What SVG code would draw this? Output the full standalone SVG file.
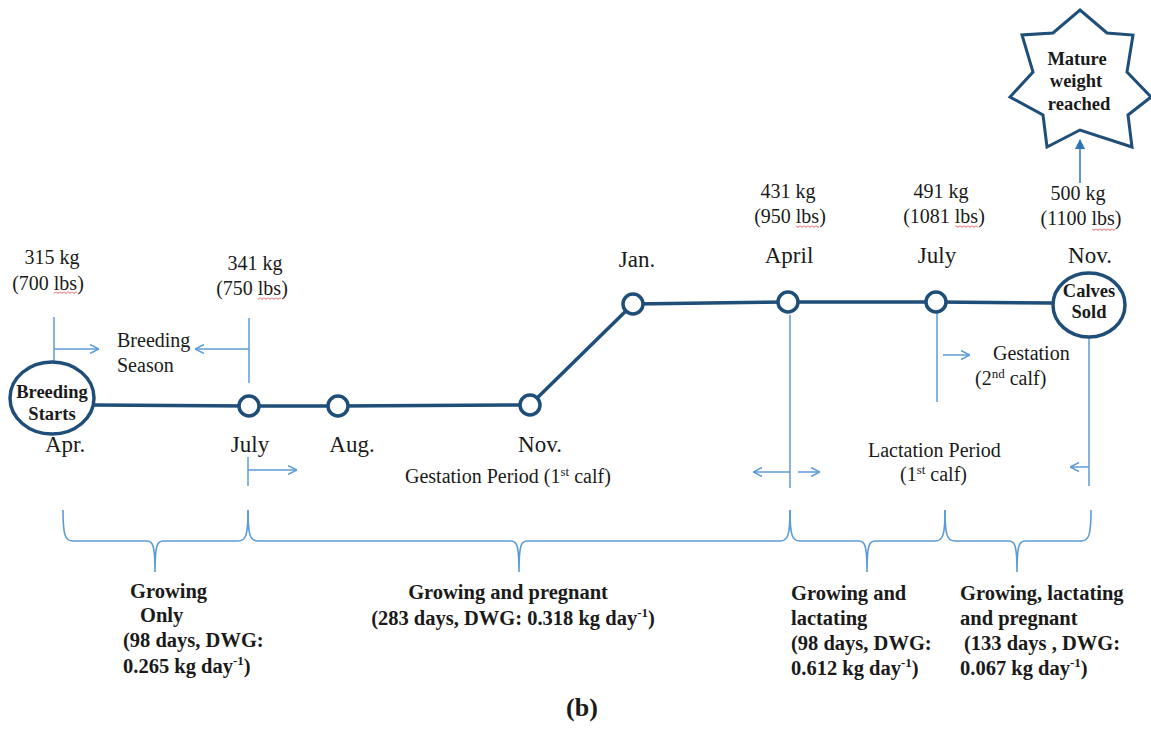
<svg xmlns="http://www.w3.org/2000/svg" width="1151" height="733" viewBox="0 0 1151 733">
<style>
text{font-family:"Liberation Serif","Times New Roman",serif;fill:#1a1a1a}
.lbl{font-size:20px}
.mon{font-size:23px}
.bold{font-weight:bold;font-size:20.5px}
.nb{font-weight:bold;font-size:18.5px}
.mid{text-anchor:middle}
.main{fill:none;stroke:#1F4E79;stroke-width:3.5}
.node{fill:#fff;stroke:#1F4E79;stroke-width:3.5}
.thin{fill:none;stroke:#5B9BD5;stroke-width:1.5}
.arr{fill:none;stroke:#5B9BD5;stroke-width:1.5;marker-end:url(#chev)}
.brace{fill:none;stroke:#5B9BD5;stroke-width:1.6}
.sq{fill:url(#squig)}
</style>
<defs>
<marker id="chev" viewBox="0 0 10 10" refX="10" refY="5" markerWidth="10" markerHeight="10" markerUnits="userSpaceOnUse" orient="auto">
<path d="M1,0.5 L10,5 L1,9.5" fill="none" stroke="#5B9BD5" stroke-width="1.4"/>
</marker>
<marker id="tri" viewBox="0 0 10 10" refX="9" refY="5" markerWidth="10" markerHeight="12" markerUnits="userSpaceOnUse" orient="auto">
<path d="M0,0 L10,5 L0,10 Z" fill="#2E75B6"/>
</marker>
<pattern id="squig" width="4" height="3" patternUnits="userSpaceOnUse">
<path d="M0,0.5 L2,2.5 L4,0.5" fill="none" stroke="#e02020" stroke-width="0.8"/>
</pattern>
</defs>
<rect width="1151" height="733" fill="#fff"/>

<g id="connectors">
<polyline class="main" points="94,405 249,406 338,406 530,405 633,304 788,302 936,302 1053,303"/>
<path class="thin" d="M54,317 V362"/>
<path class="arr" d="M54,349 H99"/>
<path class="thin" d="M249,318 V383"/>
<path class="arr" d="M249,349 H195"/>
<path class="thin" d="M248,457 V486"/>
<path class="arr" d="M248,470 H297"/>
<path class="thin" d="M790,315 V488"/>
<path class="arr" d="M790,472 H753"/>
<path class="arr" d="M798,472 H820"/>
<path class="thin" d="M937,313 V402"/>
<path class="arr" d="M943,355 H970"/>
<path class="thin" d="M1089,337 V486"/>
<path class="arr" d="M1089,467 H1070"/>
<path d="M1080,183 V140" fill="none" stroke="#2E75B6" stroke-width="1.5" marker-end="url(#tri)"/>
</g>

<g id="brackets">
<path class="brace" d="M63,510 C63,535 65,541 73,541 H147 C153,541 155,546 155,572 C155,546 157,541 163,541 H238 C246,541 248,535 248,510"/>
<path class="brace" d="M248,510 C248,535 250,541 258,541 H511 C517,541 519,546 519,572 C519,546 521,541 527,541 H780 C788,541 790,535 790,510"/>
<path class="brace" d="M790,510 C790,535 792,541 800,541 H859 C865,541 867,546 867,572 C867,546 869,541 875,541 H935 C943,541 945,535 945,510"/>
<path class="brace" d="M945,510 C945,535 947,541 955,541 H1009 C1015,541 1017,546 1017,572 C1017,546 1019,541 1025,541 H1081 C1089,541 1091,535 1091,510"/>
</g>

<g id="node-breeding-starts">
<ellipse class="node" cx="52" cy="398" rx="42" ry="36"/>
<text class="nb mid" x="52" y="398">Breeding</text>
<text class="nb mid" x="52" y="420">Starts</text>
<text class="mon mid" x="65" y="452">Apr.</text>
<text class="lbl mid" x="52" y="264">315 kg</text>
<text class="lbl mid" x="48" y="290">(700 lbs)</text>
<rect class="sq" x="54" y="291" width="23" height="3"/>
</g>

<g id="node-july1">
<circle class="node" cx="249" cy="406" r="10"/>
<text class="mon mid" x="250" y="452">July</text>
<text class="lbl mid" x="255" y="270">341 kg</text>
<text class="lbl mid" x="252" y="295">(750 lbs)</text>
<rect class="sq" x="258" y="297" width="23" height="3"/>
</g>

<g id="breeding-season">
<text class="lbl" x="117" y="347">Breeding</text>
<text class="lbl" x="117" y="372">Season</text>
</g>

<g id="node-aug">
<circle class="node" cx="338" cy="406" r="10"/>
<text class="mon mid" x="352" y="452">Aug.</text>
</g>

<g id="node-nov1">
<circle class="node" cx="530" cy="405" r="10"/>
<text class="mon mid" x="540" y="452">Nov.</text>
</g>

<g id="gestation-1">
<text class="lbl" x="405" y="483">Gestation Period (1<tspan dy="-7" font-size="13">st</tspan><tspan dy="7"> calf)</tspan></text>
</g>

<g id="node-jan">
<circle class="node" cx="633" cy="304" r="10"/>
<text class="mon mid" x="637" y="267">Jan.</text>
</g>

<g id="node-april">
<circle class="node" cx="788" cy="302" r="10"/>
<text class="mon mid" x="789" y="263">April</text>
<text class="lbl mid" x="788" y="198">431 kg</text>
<text class="lbl mid" x="790" y="223">(950 lbs)</text>
<rect class="sq" x="796" y="225" width="23" height="3"/>
</g>

<g id="node-july2">
<circle class="node" cx="936" cy="302" r="10"/>
<text class="mon mid" x="937" y="263">July</text>
<text class="lbl mid" x="941" y="198">491 kg</text>
<text class="lbl mid" x="944" y="223">(1081 lbs)</text>
<rect class="sq" x="955" y="225" width="23" height="3"/>
</g>

<g id="gestation-2">
<text class="lbl" x="993" y="360">Gestation</text>
<text class="lbl" x="975" y="385">(2<tspan dy="-7" font-size="13">nd</tspan><tspan dy="7"> calf)</tspan></text>
</g>

<g id="lactation">
<text class="lbl" x="868" y="457">Lactation Period</text>
<text class="lbl" x="900" y="481">(1<tspan dy="-7" font-size="13">st</tspan><tspan dy="7"> calf)</tspan></text>
</g>

<g id="node-calves-sold">
<ellipse class="node" cx="1089" cy="305" rx="36" ry="32"/>
<text class="nb mid" x="1089" y="297">Calves</text>
<text class="nb mid" x="1089" y="318">Sold</text>
<text class="mon mid" x="1090" y="263">Nov.</text>
<text class="lbl mid" x="1078" y="200">500 kg</text>
<text class="lbl mid" x="1081" y="225">(1100 lbs)</text>
<rect class="sq" x="1092" y="228" width="23" height="3"/>
</g>

<g id="node-mature">
<polygon points="1080,10 1107,33 1133,35 1127,72 1151,97 1128,115 1132,147 1080,130 1047,147 1043,115 1010,97 1033,72 1022,35 1053,33" fill="#fff" stroke="#1F4E79" stroke-width="3" stroke-linejoin="miter"/>
<text class="nb mid" x="1077" y="65">Mature</text>
<text class="nb mid" x="1076" y="87">weight</text>
<text class="nb mid" x="1079" y="110">reached</text>
</g>

<g id="phase-1">
<text class="bold" x="130" y="598">Growing</text>
<text class="bold" x="140" y="622">Only</text>
<text class="bold" x="123" y="647">(98 days, DWG:</text>
<text class="bold" x="123" y="673">0.265 kg day<tspan dy="-8" font-size="13">-1</tspan><tspan dy="8">)</tspan></text>
</g>

<g id="phase-2">
<text class="bold mid" x="508" y="599">Growing and pregnant</text>
<text class="bold mid" x="513" y="625">(283 days, DWG: 0.318 kg day<tspan dy="-8" font-size="13">-1</tspan><tspan dy="8">)</tspan></text>
</g>

<g id="phase-3">
<text class="bold" x="791" y="600">Growing and</text>
<text class="bold" x="791" y="625">lactating</text>
<text class="bold" x="791" y="650">(98 days, DWG:</text>
<text class="bold" x="791" y="675">0.612 kg day<tspan dy="-8" font-size="13">-1</tspan><tspan dy="8">)</tspan></text>
</g>

<g id="phase-4">
<text class="bold" x="960" y="600">Growing, lactating</text>
<text class="bold" x="960" y="625">and pregnant</text>
<text class="bold" x="964" y="650">(133 days , DWG:</text>
<text class="bold" x="960" y="675">0.067 kg day<tspan dy="-8" font-size="13">-1</tspan><tspan dy="8">)</tspan></text>
</g>

<text font-weight="bold" font-size="26" text-anchor="middle" x="582" y="716">(b)</text>
</svg>
